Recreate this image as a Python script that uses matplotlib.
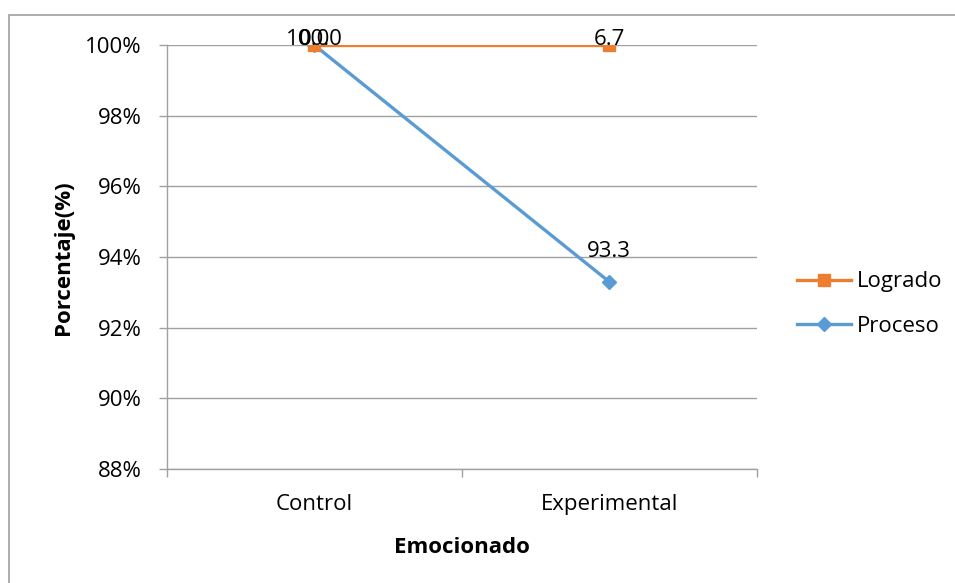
import matplotlib
matplotlib.use("Agg")
import matplotlib.pyplot as plt
from matplotlib.patches import Rectangle
from matplotlib.ticker import FuncFormatter, FixedLocator
import numpy as np

plt.rcParams['font.family'] = ['Open Sans', 'DejaVu Sans']

categories = ["Control", "Experimental"]
proceso = [100.0, 93.3]
logrado = [0.0, 6.7]
yticks = [0.88, 0.90, 0.92, 0.94, 0.96, 0.98, 1.00]
series_names = ["Logrado", "Proceso"]
x_title = "Emocionado"
y_title = "Porcentaje(%)"

W, H = 955, 583
fig = plt.figure(figsize=(W / 100, H / 100), dpi=100)
fig.patch.set_facecolor("white")

ax = fig.add_axes([166.7 / W, 1 - 469 / H, 590 / W, 424 / H])

x = np.arange(len(categories))
proc = np.array(proceso)
logr = np.array(logrado)
total = proc + logr
proc_pct = proc / total
logr_cum = (proc + logr) / total

orange = "#ED7D31"
blue = "#5B9BD5"
gray = "#a0a0a0"
FS = 16

l_proc, = ax.plot(x, proc_pct, color=blue, lw=2.4, marker="D", ms=7.5,
                  zorder=3, label=series_names[1])
l_logr, = ax.plot(x, logr_cum, color=orange, lw=2.4, marker="s", ms=8,
                  zorder=4, label=series_names[0])

# data labels (raw values)
for xi, yi, v in zip(x, proc_pct, proc):
    off = 0 if yi >= 0.999 else 18
    ax.annotate(f"{v:.1f}", xy=(xi, yi), xytext=(0, off), textcoords="offset points",
                ha="center", va="baseline", fontsize=FS, color="black", zorder=6,
                annotation_clip=False)
for xi, yi, v in zip(x, logr_cum, logr):
    ax.annotate(f"{v:.1f}", xy=(xi, yi), xytext=(0, 0), textcoords="offset points",
                ha="center", va="baseline", fontsize=FS, color="black", zorder=6,
                annotation_clip=False)

ax.set_xlim(-0.5, len(categories) - 0.5)
ax.set_ylim(yticks[0], yticks[-1])
ax.set_yticks(yticks)
ax.yaxis.set_major_formatter(FuncFormatter(lambda v, p: f"{v * 100:.0f}%"))
ax.grid(axis="y", color=gray, lw=1.0)
ax.set_axisbelow(True)

ax.xaxis.set_major_locator(FixedLocator(np.arange(-0.5, len(categories), 1.0)))
ax.xaxis.set_major_formatter(FuncFormatter(lambda v, p: ""))
ax.xaxis.set_minor_locator(FixedLocator(x))
ax.set_xticklabels(categories, minor=True)
ax.tick_params(axis="x", which="major", direction="out", length=5.8, width=1.0, color=gray)
ax.tick_params(axis="x", which="minor", length=0, pad=18, labelsize=FS)
ax.tick_params(axis="y", direction="out", length=5.8, width=1.0, color=gray, pad=12,
               labelsize=FS)

for s in ["top", "right"]:
    ax.spines[s].set_visible(False)
for s in ["left", "bottom"]:
    ax.spines[s].set_color(gray)
    ax.spines[s].set_linewidth(1.0)

fig.text(461.5 / W, 1 - 553 / H, x_title, ha="center", va="baseline",
         fontsize=FS, fontweight="bold")
fig.text(63 / W, 1 - 258 / H, y_title, ha="center", va="center", rotation=90,
         fontsize=FS, fontweight="bold")

fig.legend(handles=[l_logr, l_proc], labels=series_names, loc="center left",
           bbox_to_anchor=(797 / W, 1 - 304 / H), bbox_transform=fig.transFigure,
           frameon=False, fontsize=FS, handlelength=2.45, handletextpad=0.25,
           labelspacing=1.05, borderpad=0, borderaxespad=0)

fig.add_artist(Rectangle((9 / W, -0.1), 1.2, 1 - 15 / H + 0.1,
                         transform=fig.transFigure, fill=False, ec=gray, lw=1.2))

fig.savefig("out.png", dpi=100, facecolor="white")
